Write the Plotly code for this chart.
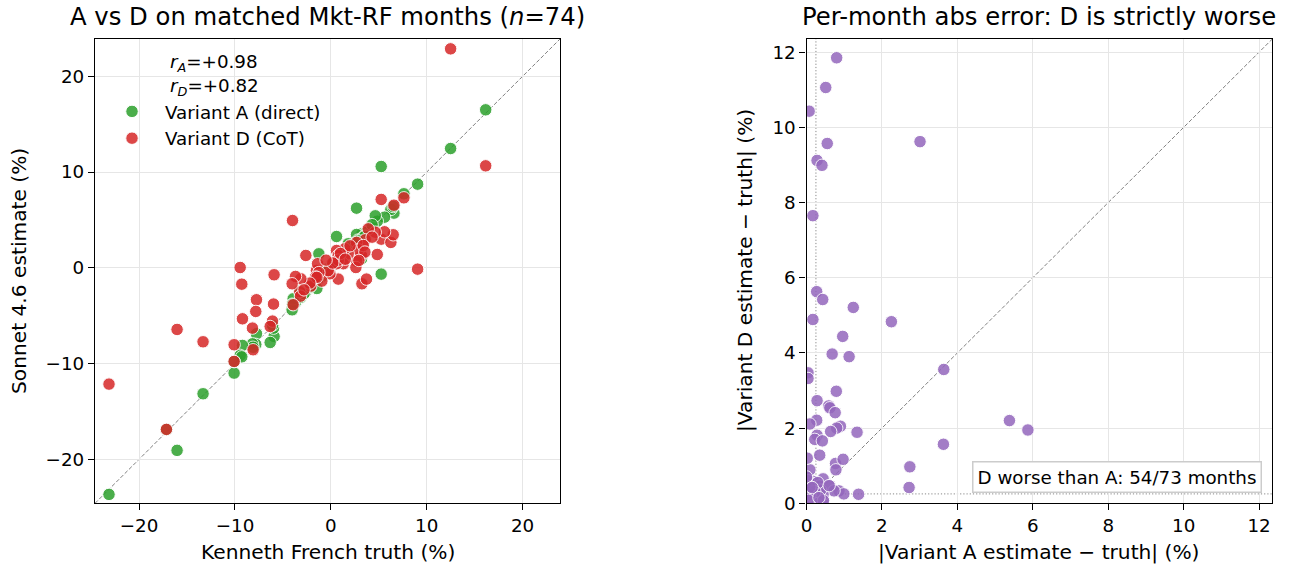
import plotly.graph_objects as go

# ---- Left panel data: matched months (truth, Variant A, Variant D), %
truth = [16.15, 12.49, 9.05, 7.62, 6.58, 5.25, 5.25, 6.26, 6.5, 5.6, 4.84, 4.63, 3.9, 3.58, 3.2,
         3.24, 3.72, 2.68, 2.68, 2.61, 2.85, 3.38, 3.55, 2.92, 1.81, 1.46, 1.29, 0.59, 0.77, 0.59,
         0.77, 0.77, -0.1, -0.28, -0.94, -1.5, -1.39, -1.25, -2.61, -1.6, -2.09, -1.46, -2.19, -3.13,
         -3.24, -3.69, -4.04, -3.17, -3.93, -4.0, -5.92, -5.98, -6.09, -6.33, -7.76, -7.83, -8.18,
         -8.11, -9.22, -9.46, -9.29, -10.09, -10.09, -13.33, -16.04, -17.15, -23.14, 0.2, 1.0, 2.0,
         -0.5, 4.3, -2.8, 1.5]
est_A = [16.5, 12.46, 8.74, 7.73, 5.71, 10.58, -0.66, 6.1, 6.4, 5.29, 4.87, 5.43, 3.9, 3.4, 0.94,
         3.55, 3.7, 6.23, 3.48, 2.5, 2.9, 3.2, 3.3, 2.8, 2.51, 1.6, 1.3, 3.27, 0.9, 0.6,
         0.7, 0.8, -0.1, -0.1, -0.9, -1.4, -1.3, 1.46, -2.5, -1.5, -2.0, -2.16, -2.02, -3.0,
         -2.37, -3.6, -4.39, -3.1, -3.24, -3.8, -7.17, -6.3, -6.0, -7.8, -6.89, -8.0, -7.94,
         -8.3, -8.11, -9.15, -9.3, -11.0, -9.8, -13.16, -19.07, -16.9, -23.67, 0.4, 1.2, 2.2,
         -0.4, 4.5, -2.7, 1.7]
est_D = [10.65, 22.87, -0.14, 7.31, 6.54, 7.14, 2.99, 2.65, 3.45, 3.76, 1.39, 3.72, 4.07, 2.92, 1.29,
         -1.67, -1.18, 0.7, 2.65, 0.03, 1.88, 2.33, 1.64, 0.77, 1.46, 1.98, 0.42, 1.81, 1.29, 0.42,
         -1.18, 0.8, -0.63, -0.3, -1.39, -0.28, 0.42, -0.5, 1.29, -0.97, -1.91, -1.0, -1.6, -1.15,
         -2.5, -0.9, -1.67, -2.96, -3.86, 4.94, -0.73, -3.79, -5.57, -6.13, -3.34, -4.56, -6.3,
         -8.56, -5.33, 0.03, -1.71, -8.04, -9.78, -7.73, -6.44, -16.88, -12.15, 0.5, 1.5, 2.3,
         0.8, 3.2, -2.3, 0.9]

# ---- Right panel data: per-month absolute errors, %
err_A = [0.80, 0.51, 0.07, 0.55, 3.01, 0.28, 0.41, 0.17, 0.27, 0.43, 1.24, 0.17, 2.25, 0.96, 0.68,
         1.13, 0.04, 0.04, 3.64, 0.79, 0.28, 0.59, 0.62, 0.76, 0.27, 0.09, 5.38, 5.87, 0.90, 0.80,
         0.64, 1.34, 0.28, 0.22, 0.42, 3.63, 0.35, 0.77, 0.97, 0.78, 2.74, 2.72, 0.09, 0.44, 0.19,
         0.35, 0.62, 0.86, 0.99, 1.38, 0.73, 0.04, 0.11, 0.28, 0.44, 0.44, 0.02, 0.19, 0.37,
         0.05, 0.10, 0.15, 0.30, 0.22, 0.09, 0.05, 0.45, 0.09, 0.60, 0.02, 0.00, 0.15, 0.33]
err_D = [11.85, 11.06, 10.43, 9.57, 9.62, 9.12, 8.99, 7.65, 5.63, 5.42, 5.21, 4.89, 4.83, 4.44, 3.97,
         3.90, 3.47, 3.32, 3.56, 2.98, 2.73, 2.59, 2.54, 2.41, 2.21, 2.11, 2.20, 1.95, 2.05, 2.00,
         1.91, 1.89, 1.81, 1.70, 1.66, 1.57, 1.28, 1.06, 1.17, 0.89, 0.97, 0.42, 0.89, 0.65, 0.58,
         0.46, 0.46, 0.33, 0.25, 0.24, 0.33, 0.35, 0.18, 0.09, 0.09, 0.24, 0.04, 0.25, 0.35,
         0.60, 0.30, 0.05, 0.55, 0.31, 0.22, 0.08, 0.07, 0.44, 0.47, 1.20, 0.70, 0.42, 0.15]

left_ticks = [-20, -10, 0, 10, 20]
right_ticks = [0, 2, 4, 6, 8, 10, 12]
left_range = [-24.6, 23.9]
right_range = [0, 12.35]
threshold = 0.25
r_A, r_D = 0.98, 0.82
n_worse, n_total = 54, 73

W, H = 1289, 569
FONT = "DejaVu Sans"
GREEN, RED, PURPLE = "#2ca02c", "#d62728", "#9467bd"
TICK_PX, LABEL_PX, TITLE_PX, SMALL_PX = 18.3, 20.2, 24.3, 18.3

fig = go.Figure()

mk = dict(size=12.5, opacity=0.85, line=dict(color="white", width=1))
fig.add_trace(go.Scatter(x=truth, y=est_A, mode="markers", name="Variant A (direct)",
                         marker=dict(color=GREEN, **mk), xaxis="x", yaxis="y"))
fig.add_trace(go.Scatter(x=truth, y=est_D, mode="markers", name="Variant D (CoT)",
                         marker=dict(color=RED, **mk), xaxis="x", yaxis="y"))
fig.add_trace(go.Scatter(x=err_A, y=err_D, mode="markers", showlegend=False,
                         marker=dict(color=PURPLE, **mk), xaxis="x2", yaxis="y2"))

# reference lines
DASH = "4px,2px"
DOT = "1.2px,2px"
fig.add_shape(type="line", xref="x", yref="y", x0=left_range[0], y0=left_range[0],
              x1=left_range[1], y1=left_range[1], line=dict(color="#808080", width=1, dash=DASH), layer="below")
fig.add_shape(type="line", xref="x2", yref="y2", x0=0, y0=0, x1=right_range[1], y1=right_range[1],
              line=dict(color="#808080", width=1, dash=DASH), layer="below")
fig.add_shape(type="line", xref="x2", yref="y2", x0=threshold, y0=0, x1=threshold, y1=right_range[1],
              line=dict(color="#7a7a7a", width=0.9, dash=DOT), layer="below")
fig.add_shape(type="line", xref="x2", yref="y2", x0=0, y0=threshold, x1=right_range[1], y1=threshold,
              line=dict(color="#7a7a7a", width=0.9, dash=DOT), layer="below")

ax_common = dict(showline=True, linecolor="black", linewidth=1.3, mirror=True,
                 ticks="outside", ticklen=6, tickwidth=1.2, tickcolor="black",
                 showgrid=True, gridcolor="#e6e6e6", gridwidth=1, zeroline=False, automargin=False,
                 tickfont=dict(size=TICK_PX, color="black", family=FONT))

yd = [1 - 503.3 / H, 1 - 39 / H]
fig.update_layout(
    width=W, height=H,
    margin=dict(l=0, r=0, t=0, b=0),
    paper_bgcolor="white", plot_bgcolor="white",
    font=dict(family=FONT, color="black", size=SMALL_PX),
    xaxis=dict(domain=[95 / W, 560 / W], range=left_range, tickvals=left_ticks, anchor="y", **ax_common),
    yaxis=dict(domain=yd, range=left_range, tickvals=left_ticks, anchor="x", **ax_common),
    xaxis2=dict(domain=[806.5 / W, 1272.3 / W], range=right_range, tickvals=right_ticks, anchor="y2", **ax_common),
    yaxis2=dict(domain=yd, range=right_range, tickvals=right_ticks, anchor="x2", **ax_common),
    legend=dict(x=99 / W, y=1 - 93 / H, xanchor="left", yanchor="top", bgcolor="rgba(0,0,0,0)",
                font=dict(size=SMALL_PX, family=FONT), itemwidth=56, tracegroupgap=2),
    showlegend=True,
)

def ann(text, x, y, size, **kw):
    d = dict(text=text, x=x / W, y=1 - y / H, xref="paper", yref="paper", showarrow=False,
             font=dict(size=size, family=FONT, color="black"), xanchor="center", yanchor="middle")
    d.update(kw)
    return d

annotations = [
    ann("A vs D on matched Mkt-RF months (<i>n</i>=%d)" % len(truth), 327.5, 16, TITLE_PX),
    ann("Per-month abs error: D is strictly worse", 1039, 16, TITLE_PX),
    ann("Kenneth French truth (%)", 327.5, 552, LABEL_PX),
    ann("|Variant A estimate − truth| (%)", 1039, 552, LABEL_PX),
    ann("Sonnet 4.6 estimate (%)", 19, 271, LABEL_PX, textangle=-90),
    ann("|Variant D estimate − truth| (%)", 745, 271, LABEL_PX, textangle=-90),
    ann("<i>r</i><sub><i>A</i></sub>=+%.2f<br><i>r</i><sub><i>D</i></sub>=+%.2f" % (r_A, r_D), 168, 49, SMALL_PX,
        xanchor="left", yanchor="top", align="left"),
    ann("D worse than A: %d/%d months" % (n_worse, n_total), 1262, 493, SMALL_PX,
        xanchor="right", yanchor="bottom", bordercolor="#cccccc", borderwidth=1.5, borderpad=4, bgcolor="white"),
]
fig.update_layout(annotations=annotations)

fig.write_html("out.html", config={"displayModeBar": False},
               post_script="document.body.style.margin='0';document.body.style.overflow='hidden';")
